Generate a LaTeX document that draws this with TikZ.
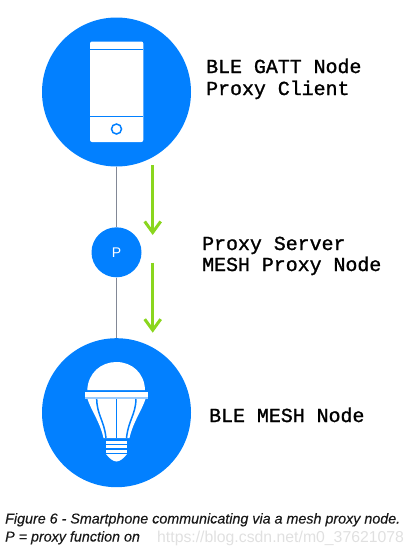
\documentclass[tikz,border=0pt]{standalone}
\usepackage{fontspec}
\setmainfont{Liberation Sans}[ItalicFeatures={FakeBold=0.25}]
\newfontfamily\labelmono{Liberation Mono}[FakeBold=1.2]
\usetikzlibrary{arrows.meta}
\definecolor{meshblue}{RGB}{2,128,255}
\definecolor{meshgreen}{RGB}{138,214,30}
\definecolor{linegray}{RGB}{130,136,150}
\tikzset{
  bigdisc/.style={circle,fill=meshblue,minimum size=149pt,inner sep=0pt},
  smalldisc/.style={circle,fill=meshblue,minimum size=50pt,inner sep=0pt,text=white,font=\fontsize{14}{14}\selectfont},
  link/.style={draw=linegray,line width=0.9pt},
  flow/.style={draw=meshgreen,line width=2.8pt,-{Straight Barb[length=11pt,width=16pt,line width=3pt]}},
  monolabel/.style={anchor=base west,inner sep=0pt,font=\labelmono\fontsize{19.9}{20}\selectfont},
  captionline/.style={anchor=base west,inner sep=0pt,text=black!90,font=\itshape\fontsize{14.3}{15}\selectfont},
  iconline/.style={draw=meshblue,line width=1.5pt}
}
\begin{document}
\begin{tikzpicture}[x=1pt,y=-1pt]
\useasboundingbox (0,0) rectangle (415,552);
\node[bigdisc] (client) at (116.5,92) {};
\node[smalldisc] (proxy) at (116.5,252.3) {P};
\node[bigdisc] (mesh) at (116.5,412.7) {};
\draw[link] (client) -- (proxy);
\draw[link] (proxy) -- (mesh);
% phone
\fill[white,rounded corners=2pt] (90,41.5) rectangle (143.3,142);
\draw[iconline] (90,49.3) -- (143.3,49.3);
\draw[iconline] (90,116.7) -- (143.3,116.7);
\draw[meshblue,line width=1.5pt] (116.5,129) circle (5pt);
% bulb
\fill[white] (87.3,390) .. controls (88,373) and (101,362) .. (116.3,362) .. controls (132,362) and (144.5,373) .. (145,390) -- cycle;
\fill[white] (85,392.2) rectangle (147.5,397);
\fill[white!60!meshblue] (85,397) rectangle (147.5,398.5);
\fill[white] (87.5,399) -- (145.5,399) .. controls (142,410) and (133,422) .. (129.5,438) -- (103.5,438) .. controls (100,422) and (91,410) .. (87.5,399) -- cycle;
\draw[iconline] (116.5,399) -- (116.5,438);
\draw[iconline] (96.7,399) .. controls (97,415) and (104,420) .. (106,438);
\draw[iconline] (136,399) .. controls (135.5,415) and (128.5,420) .. (126.5,438);
\fill[white] (105.5,440.7) rectangle (127.3,443.5);
\fill[white] (105.5,445) rectangle (127.3,448);
\fill[white] (105.5,449.5) rectangle (127.3,452.5);
\fill[white] (106,454) -- (127,454) .. controls (124,458) and (120,461.5) .. (116.5,461.5) .. controls (113,461.5) and (109,458) .. (106,454) -- cycle;
% flows
\coordinate (f1a) at (152.7,165);
\coordinate (f1b) at (152.7,235);
\coordinate (f2a) at (152.7,262.7);
\coordinate (f2b) at (152.7,332.7);
\draw[flow] (f1a) -- (f1b);
\draw[flow] (f2a) -- (f2b);
% labels
\node[monolabel] (t1) at (206,73) {BLE GATT Node};
\node[monolabel] (t2) at (206,95) {Proxy Client};
\node[monolabel] (t3) at (202,250) {Proxy Server};
\node[monolabel] (t4) at (202,271) {MESH Proxy Node};
\node[monolabel] (t5) at (209,422) {BLE MESH Node};
\node[captionline] (c1) at (5,523.5) {Figure 6 - Smartphone communicating via a mesh proxy node.};
\node[captionline] (c2) at (5,541.5) {P = proxy function on};
\node[anchor=base west,inner sep=0pt,text=black!12,font=\fontsize{15.8}{16}\selectfont] (wm) at (157,542) {https://blog.csdn.net/m0\_37621078};
\end{tikzpicture}
\end{document}
